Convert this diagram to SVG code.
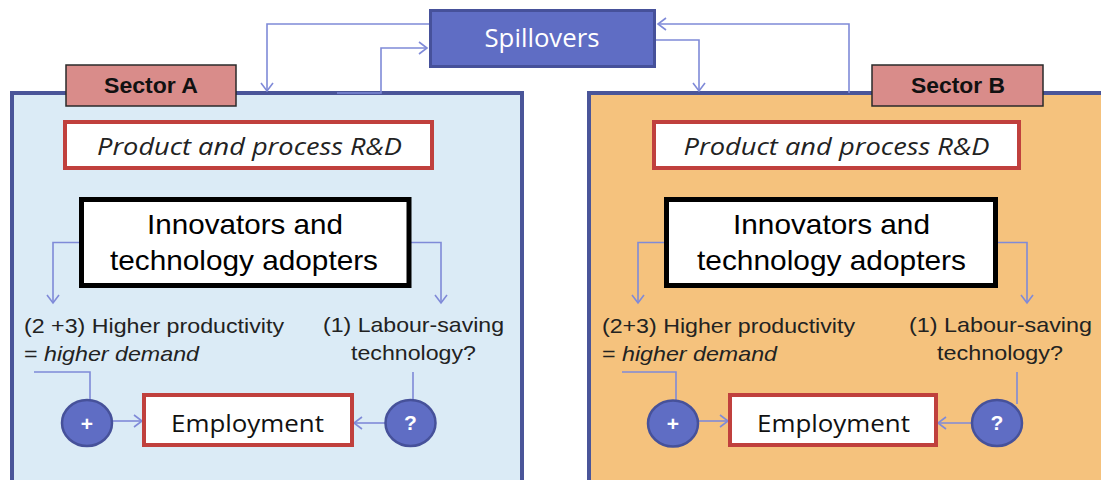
<svg xmlns="http://www.w3.org/2000/svg" width="1101" height="480" viewBox="0 0 1101 480">
<style>
.panel{stroke:#4A5599;stroke-width:4}
.lbl{fill:#D98C8A;stroke:#2a2a2a;stroke-width:1.5}
.lblt{font-family:"Liberation Sans",Arial,sans-serif;font-weight:bold;font-size:22px;fill:#111}
.red{fill:#fff;stroke:#C0403D;stroke-width:4}
.blk{fill:#fff;stroke:#000;stroke-width:5}
.ital{font-family:"Open Sans","Noto Sans",sans-serif;font-style:italic;font-size:23px;fill:#222}
.inn{font-family:"Liberation Sans",Arial,sans-serif;font-size:28px;fill:#000}
.body{font-family:"Liberation Sans",Arial,sans-serif;font-size:21px;fill:#222}
.emp{font-family:"Open Sans","Noto Sans",sans-serif;font-size:24px;fill:#111}
.circ{fill:#5F6DC4;stroke:#46519A;stroke-width:2.5}
.ct{font-family:"Liberation Sans",Arial,sans-serif;font-weight:bold;font-size:21px;fill:#fff}
.con{fill:none;stroke:#7F8AD8;stroke-width:1.6}
</style>
<defs>
<marker id="arr" viewBox="-10 -7 12 14" markerWidth="12" markerHeight="14" refX="0" refY="0" orient="auto" markerUnits="userSpaceOnUse">
<path d="M-8,-6 L0,0 L-8,6" fill="none" stroke="#7F8AD8" stroke-width="1.6"/>
</marker>
</defs>
<rect width="1101" height="480" fill="#fff"/>

<g id="sectorA">
<rect class="panel" x="12" y="93" width="510" height="400" fill="#DBEBF6"/>
</g>
<g id="sectorB">
<rect class="panel" x="589" y="93" width="520" height="400" fill="#F5C27D"/>
</g>

<g id="connectors">
<polyline class="con" points="430,24 267,24 267,91" marker-end="url(#arr)"/>
<polyline class="con" points="337,93 381,93 381,48 427,48" marker-end="url(#arr)"/>
<polyline class="con" points="849,93 849,24 658,24" marker-end="url(#arr)"/>
<polyline class="con" points="656,40 699,40 699,91" marker-end="url(#arr)"/>

<polyline class="con" points="81,242.5 53,242.5 53,303" marker-end="url(#arr)"/>
<polyline class="con" points="410,242.5 441,242.5 441,303" marker-end="url(#arr)"/>
<polyline class="con" points="666,242.5 638,242.5 638,303" marker-end="url(#arr)"/>
<polyline class="con" points="996,242.5 1027,242.5 1027,303" marker-end="url(#arr)"/>

<polyline class="con" points="34,372 90,372 90,410"/>
<line class="con" x1="112" y1="421" x2="142" y2="421" marker-end="url(#arr)"/>
<line class="con" x1="413" y1="372" x2="413" y2="401"/>
<line class="con" x1="385" y1="423" x2="354" y2="423" marker-end="url(#arr)"/>

<polyline class="con" points="622,372 676,372 676,410"/>
<line class="con" x1="698" y1="421" x2="728" y2="421" marker-end="url(#arr)"/>
<line class="con" x1="1017" y1="372" x2="1017" y2="404"/>
<line class="con" x1="972" y1="423" x2="938" y2="423" marker-end="url(#arr)"/>
</g>

<g id="spillovers">
<rect x="430.5" y="10.5" width="224" height="56" fill="#5F6DC4" stroke="#46519A" stroke-width="3"/>
<text x="542" y="47" text-anchor="middle" font-family="Open Sans, Noto Sans, sans-serif" font-size="25" fill="#fff" textLength="115" lengthAdjust="spacingAndGlyphs">Spillovers</text>
</g>

<g id="labelA">
<rect class="lbl" x="66" y="65" width="170" height="41"/>
<text class="lblt" x="151" y="93" text-anchor="middle" textLength="94" lengthAdjust="spacingAndGlyphs">Sector A</text>
</g>
<g id="labelB">
<rect class="lbl" x="872" y="65" width="171" height="41"/>
<text class="lblt" x="958" y="93" text-anchor="middle" textLength="94" lengthAdjust="spacingAndGlyphs">Sector B</text>
</g>

<g id="rdA">
<rect class="red" x="65" y="122" width="367" height="46"/>
<text class="ital" x="249.5" y="155" text-anchor="middle" textLength="305" lengthAdjust="spacingAndGlyphs">Product and process R&amp;D</text>
</g>
<g id="rdB">
<rect class="red" x="654" y="122" width="365" height="46"/>
<text class="ital" x="836.5" y="155" text-anchor="middle" textLength="306" lengthAdjust="spacingAndGlyphs">Product and process R&amp;D</text>
</g>

<g id="innovA">
<rect class="blk" x="81.5" y="199.5" width="327.5" height="86"/>
<text class="inn" x="245" y="234" text-anchor="middle" textLength="196" lengthAdjust="spacingAndGlyphs">Innovators and</text>
<text class="inn" x="244" y="270" text-anchor="middle" textLength="268" lengthAdjust="spacingAndGlyphs">technology adopters</text>
</g>
<g id="innovB">
<rect class="blk" x="666.5" y="199.5" width="329" height="86"/>
<text class="inn" x="831.5" y="234" text-anchor="middle" textLength="197" lengthAdjust="spacingAndGlyphs">Innovators and</text>
<text class="inn" x="831.5" y="270" text-anchor="middle" textLength="269" lengthAdjust="spacingAndGlyphs">technology adopters</text>
</g>

<g id="prodA">
<text class="body" x="24" y="333" textLength="260" lengthAdjust="spacingAndGlyphs">(2 +3) Higher productivity</text>
<text class="body" x="24" y="361" textLength="175" lengthAdjust="spacingAndGlyphs">= <tspan font-style="italic">higher demand</tspan></text>
</g>
<g id="laborA">
<text class="body" x="413.5" y="332" text-anchor="middle" textLength="181" lengthAdjust="spacingAndGlyphs">(1) Labour-saving</text>
<text class="body" x="413.5" y="360" text-anchor="middle" textLength="125" lengthAdjust="spacingAndGlyphs">technology?</text>
</g>
<g id="prodB">
<text class="body" x="602" y="333" textLength="253" lengthAdjust="spacingAndGlyphs">(2+3) Higher productivity</text>
<text class="body" x="602" y="361" textLength="175" lengthAdjust="spacingAndGlyphs">= <tspan font-style="italic">higher demand</tspan></text>
</g>
<g id="laborB">
<text class="body" x="1000.5" y="332" text-anchor="middle" textLength="183" lengthAdjust="spacingAndGlyphs">(1) Labour-saving</text>
<text class="body" x="1000" y="360" text-anchor="middle" textLength="126" lengthAdjust="spacingAndGlyphs">technology?</text>
</g>

<g id="plusA">
<ellipse class="circ" cx="87" cy="423" rx="25" ry="23"/>
<text class="ct" x="87" y="431" text-anchor="middle">+</text>
</g>
<g id="questA">
<ellipse class="circ" cx="410.5" cy="423" rx="25" ry="23"/>
<text class="ct" x="410.5" y="430" text-anchor="middle">?</text>
</g>
<g id="plusB">
<ellipse class="circ" cx="673" cy="423.5" rx="25" ry="23"/>
<text class="ct" x="673" y="431" text-anchor="middle">+</text>
</g>
<g id="questB">
<ellipse class="circ" cx="997" cy="423" rx="25" ry="23"/>
<text class="ct" x="997" y="430" text-anchor="middle">?</text>
</g>

<g id="employA">
<rect class="red" x="144" y="395" width="208" height="50"/>
<text class="emp" x="247.5" y="432" text-anchor="middle" textLength="153" lengthAdjust="spacingAndGlyphs">Employment</text>
</g>
<g id="employB">
<rect class="red" x="730" y="395" width="206" height="50"/>
<text class="emp" x="833.5" y="432" text-anchor="middle" textLength="153" lengthAdjust="spacingAndGlyphs">Employment</text>
</g>
</svg>
